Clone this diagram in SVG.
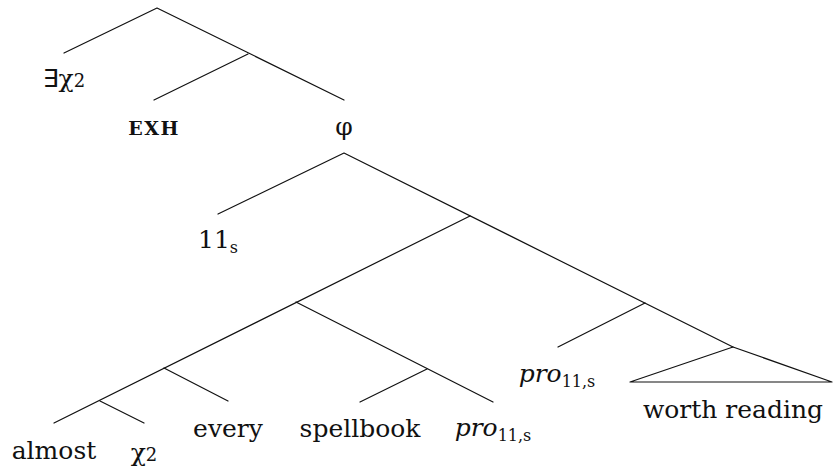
<svg xmlns="http://www.w3.org/2000/svg" width="833" height="470" viewBox="0 0 833 470">
<style>
.e{stroke:#111;stroke-width:1.2;fill:none;stroke-linecap:round;stroke-linejoin:round}
.sub{font-size:16px}
.it{font-style:italic}
.sc{font-weight:bold;font-size:19px;letter-spacing:1.5px}
</style>
<rect width="833" height="470" fill="#fff"/>
<g id="connectors" class="e">
<polyline points="64,53 157,8 344,100"/>
<line x1="248" y1="54" x2="154" y2="100"/>
<polyline points="218,214 344,153 733,347"/>
<polyline points="54,423 470,216"/>
<line x1="100" y1="401" x2="144" y2="423"/>
<line x1="164" y1="368" x2="228" y2="401"/>
<line x1="296" y1="302" x2="493" y2="402"/>
<line x1="427" y1="369" x2="360" y2="402"/>
<line x1="645" y1="303" x2="558" y2="347"/>
<polygon points="733,347 630,382 832,382"/>
</g>
<g font-family="DejaVu Serif, serif" font-size="25" fill="#111" text-anchor="middle">
<g id="n-exists"><text x="64" y="87"><tspan font-family="DejaVu Sans, sans-serif" font-size="25">∃</tspan>χ<tspan font-size="18">2</tspan></text></g>
<g id="n-exh"><text class="sc" x="154" y="135">EXH</text></g>
<g id="n-phi"><text x="344" y="135">φ</text></g>
<g id="n-11s"><text x="218" y="248">11<tspan class="sub" dy="5">s</tspan></text></g>
<g id="n-almost"><text x="54" y="459">almost</text></g>
<g id="n-chi2"><text x="144" y="461">χ<tspan font-size="18">2</tspan></text></g>
<g id="n-every"><text x="228" y="437">every</text></g>
<g id="n-spellbook"><text x="360" y="437">spellbook</text></g>
<g id="n-pro1"><text x="493" y="436"><tspan class="it">pro</tspan><tspan class="sub" dy="5">11,s</tspan></text></g>
<g id="n-pro2"><text x="557" y="382"><tspan class="it">pro</tspan><tspan class="sub" dy="5">11,s</tspan></text></g>
<g id="n-worth"><text x="733" y="418">worth reading</text></g>
</g>
</svg>
